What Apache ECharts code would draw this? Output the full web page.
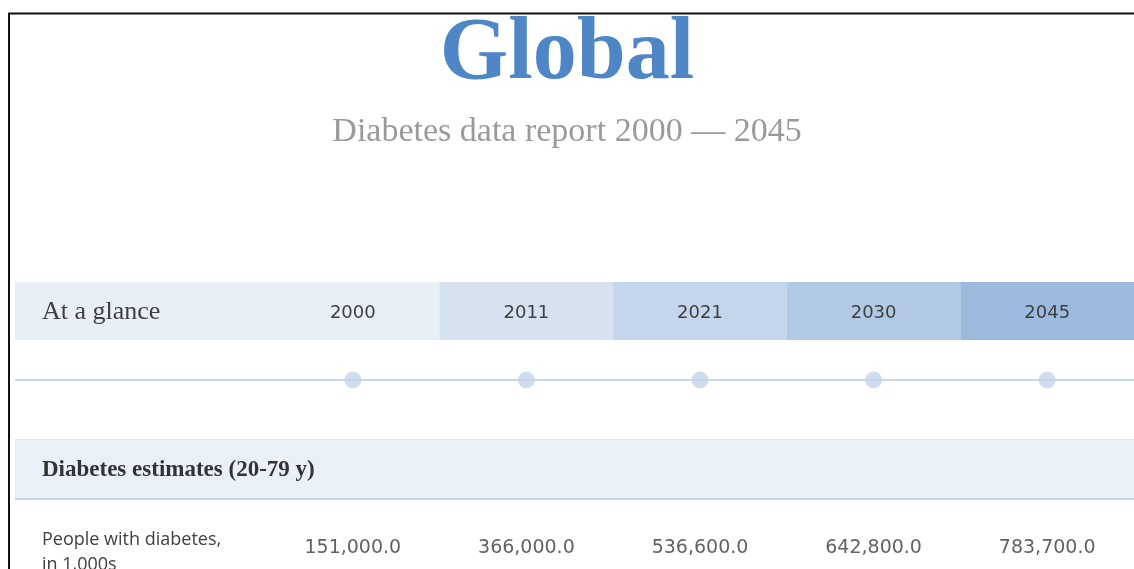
<!DOCTYPE html>
<html>
<head>
<meta charset="utf-8">
<script src="https://cdn.jsdelivr.net/npm/echarts@6/dist/echarts.min.js"></script>
<style>
html,body{margin:0;padding:0;background:#fff;}
#c{width:1134px;height:569px;}
</style>
</head>
<body>
<div id="c"></div>
<script>
// ---- data ----
const years = ['2000', '2011', '2021', '2030', '2045'];
const peopleWithDiabetes = [151000.0, 366000.0, 536600.0, 642800.0, 783700.0];
const bandCells = [1, 1, 1, 1, 1];
const timelinePoints = [1, 1, 1, 1, 1];
const titleText = 'Global';
const subtitleText = 'Diabetes data report 2000 \u2014 2045';
const headerLabel = 'At a glance';
const sectionLabel = 'Diabetes estimates (20-79 y)';
const rowLabel = 'People with diabetes,\nin 1,000s';

// ---- styles ----
const headerColors = ['#e9eff7', '#d6e2f0', '#c4d6eb', '#b1c9e5', '#9cb9de'];
const textDark = '#3f3f3f';

function fmt(v) {
  const s = v.toFixed(1);
  const [ip, dp] = s.split('.');
  return ip.replace(/\B(?=(\d{3})+(?!\d))/g, ',') + '.' + dp;
}

const chart = echarts.init(document.getElementById('c'), null, {renderer: 'canvas'});

const hiddenCat = (gi) => ({
  type: 'category', gridIndex: gi, data: years, boundaryGap: true,
  axisLine: {show: false}, axisTick: {show: false}, axisLabel: {show: false}, splitLine: {show: false}
});
const hiddenVal = (gi, max) => ({
  type: 'value', gridIndex: gi, min: 0, max: max, show: false
});

chart.setOption({
  backgroundColor: '#fff',
  animation: false,
  title: [
    {
      text: titleText, left: 'center', top: 6,
      textStyle: {fontFamily: 'Liberation Serif', fontWeight: 'bold', fontSize: 88, color: '#4f86c6'}
    },
    {
      text: subtitleText, left: 'center', top: 110,
      textStyle: {fontFamily: 'Liberation Serif', fontWeight: 'normal', fontSize: 34, color: '#9a9a9a'}
    }
  ],
  grid: [
    {left: 266, right: 0, top: 282, height: 58},
    {left: 266, right: 0, top: 360, height: 40},
    {left: 266, right: 0, top: 528, height: 40}
  ],
  xAxis: [hiddenCat(0), hiddenCat(1), hiddenCat(2)],
  yAxis: [hiddenVal(0, 1), hiddenVal(1, 2), hiddenVal(2, 2)],
  graphic: [
    {type: 'line', z: 0, shape: {x1: 8, y1: 13.5, x2: 1134, y2: 13.5}, style: {stroke: '#111', lineWidth: 2}},
    {type: 'line', z: 0, shape: {x1: 9, y1: 13, x2: 9, y2: 569}, style: {stroke: '#111', lineWidth: 2}},
    {type: 'rect', z: 0, shape: {x: 15, y: 282, width: 1119, height: 58}, style: {fill: headerColors[0]}},
    {type: 'text', z: 1, x: 42, y: 312, style: {text: headerLabel, font: '26px "Liberation Serif"', fill: textDark, verticalAlign: 'middle', align: 'left'}},
    {type: 'line', z: 0, shape: {x1: 15, y1: 380, x2: 1134, y2: 380}, style: {stroke: '#c9d8ea', lineWidth: 2}},
    {type: 'rect', z: 0, shape: {x: 15, y: 440, width: 1119, height: 59}, style: {fill: '#eaf0f8'}},
    {type: 'line', z: 0, shape: {x1: 15, y1: 439.5, x2: 1134, y2: 439.5}, style: {stroke: '#dbe4f0', lineWidth: 1}},
    {type: 'line', z: 0, shape: {x1: 15, y1: 499, x2: 1134, y2: 499}, style: {stroke: '#b6c8de', lineWidth: 1.5}},
    {type: 'text', z: 1, x: 42, y: 470, style: {text: sectionLabel, font: 'bold 23px "Liberation Serif"', fill: '#333', verticalAlign: 'middle', align: 'left'}},
    {type: 'text', z: 1, x: 42, y: 527, style: {text: rowLabel, font: '18px "Open Sans"', lineHeight: 25, fill: textDark, verticalAlign: 'top', align: 'left'}}
  ],
  series: [
    {
      type: 'bar', xAxisIndex: 0, yAxisIndex: 0, silent: true,
      barWidth: '100%', barGap: '0%',
      data: bandCells.map((v, i) => ({value: v, itemStyle: {color: headerColors[i]}})),
      label: {
        show: true, position: 'inside', formatter: '{b}', offset: [0, 2],
        fontFamily: 'DejaVu Sans', fontSize: 18, color: textDark
      }
    },
    {
      type: 'scatter', xAxisIndex: 1, yAxisIndex: 1, silent: true,
      symbolSize: 17, itemStyle: {color: '#c3d5ea'},
      data: timelinePoints
    },
    {
      type: 'scatter', xAxisIndex: 2, yAxisIndex: 2, silent: true,
      symbolSize: 0,
      encode: {x: 0, y: 1},
      data: peopleWithDiabetes.map((v, i) => [years[i], 1, v]),
      label: {
        show: true, position: 'inside',
        formatter: (p) => fmt(p.value[2]),
        fontFamily: 'DejaVu Sans', fontSize: 19, color: '#3a3a3a'
      }
    }
  ]
});
</script>
</body>
</html>
